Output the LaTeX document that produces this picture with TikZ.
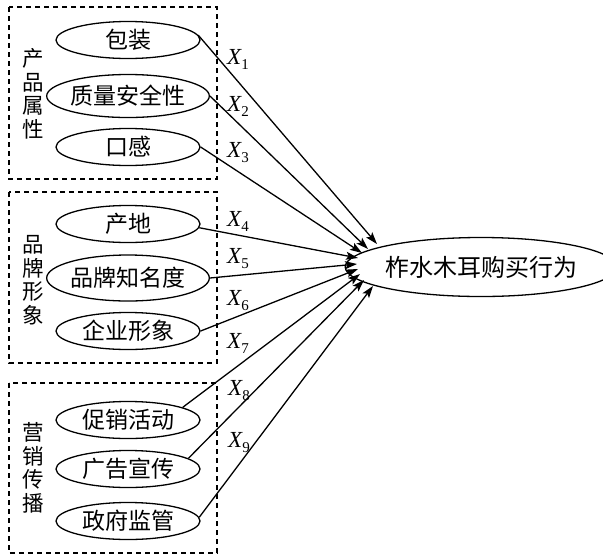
\documentclass[tikz,border=0pt]{standalone}
\usepackage{fontspec}
\newfontfamily\cjk{Noto Sans CJK SC}
\newfontfamily\tms{Liberation Serif}
\usetikzlibrary{shapes.geometric,arrows.meta}
\newcommand{\xvar}[1]{{\tms\itshape X}\raisebox{-5pt}{\tms\fontsize{15}{15}\selectfont #1}}
\begin{document}
\begin{tikzpicture}[x=1pt,y=-1pt,
  grp/.style={draw,dashed,dash pattern=on 5pt off 4pt,line width=1.5pt},
  fac/.style={draw,ellipse,line width=1.3pt,inner sep=0pt,minimum width=144pt,minimum height=37pt,font=\fontsize{23}{26}\selectfont\cjk},
  wide/.style={fac,minimum width=162pt,minimum height=43pt},
  glab/.style={align=center,inner sep=0pt,font=\fontsize{21.5}{23.5}\selectfont\cjk},
  xl/.style={inner sep=0pt,font=\fontsize{23}{26}\selectfont},
  arr/.style={line width=1.3pt,-{Stealth[length=12pt,width=8pt,inset=2.5pt]}}]
\useasboundingbox (0,0) rectangle (603,558);
% group boxes
\draw[grp] (9,7) rectangle (217,179);
\draw[grp] (9,192) rectangle (217,363);
\draw[grp] (9,383) rectangle (217,553);
% group labels
\node[glab] (g1) at (33,94) {产\\品\\属\\性};
\node[glab] (g2) at (33,280) {品\\牌\\形\\象};
\node[glab] (g3) at (33,468) {营\\销\\传\\播};
% factors
\node[fac] (a1) at (128,40) {包装};
\node[wide] (a2) at (128,96) {质量安全性};
\node[fac] (a3) at (128,147) {口感};
\node[fac] (a4) at (128,224) {产地};
\node[wide,minimum height=46pt] (a5) at (128,278) {品牌知名度};
\node[fac] (a6) at (128,331) {企业形象};
\node[fac] (a7) at (128,420) {促销活动};
\node[fac] (a8) at (128,469) {广告宣传};
\node[fac] (a9) at (128,521) {政府监管};
% target
\node[draw,ellipse,line width=1.3pt,inner sep=0pt,minimum width=242pt,minimum height=59pt,font=\fontsize{24}{27}\selectfont\cjk] (t) at (481,267) {柞水木耳购买行为};
% arrow tips
\coordinate (t1) at (377,244);
\coordinate (t2) at (368,249);
\coordinate (t3) at (362,253);
\coordinate (t4) at (358,258);
\coordinate (t5) at (357,264);
\coordinate (t6) at (358,269);
\coordinate (t7) at (360,274);
\coordinate (t8) at (364,280);
\coordinate (t9) at (373,286);
\draw[arr] (a1.4) -- (t1);
\draw[arr] (a2.east) -- (t2);
\draw[arr] (a3.east) -- (t3);
\draw[arr] (a4.-3) -- (t4);
\draw[arr] (a5.east) -- (t5);
\draw[arr] (a6.east) -- (t6);
\draw[arr] (a7.13) -- (t7);
\draw[arr] (a8.10) -- (t8);
\draw[arr] (a9.3) -- (t9);
% labels
\node[xl] (x1) at (238,59) {\xvar{1}};
\node[xl] (x2) at (238,106) {\xvar{2}};
\node[xl] (x3) at (238,153) {\xvar{3}};
\node[xl] (x4) at (238,221) {\xvar{4}};
\node[xl] (x5) at (238,259) {\xvar{5}};
\node[xl] (x6) at (238,301) {\xvar{6}};
\node[xl] (x7) at (238,343) {\xvar{7}};
\node[xl] (x8) at (239,391) {\xvar{8}};
\node[xl] (x9) at (239,443) {\xvar{9}};
\end{tikzpicture}
\end{document}
